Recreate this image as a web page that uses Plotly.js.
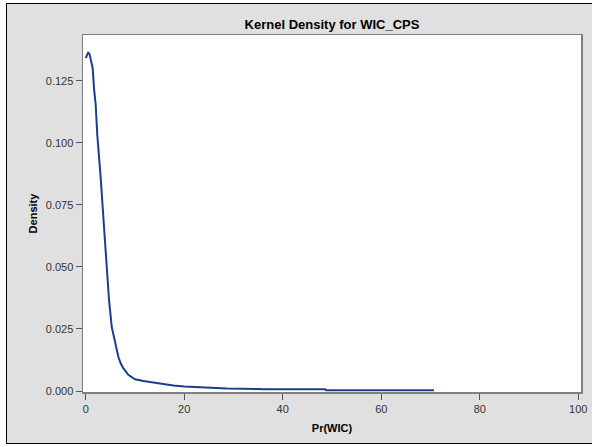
<!DOCTYPE html>
<html>
<head>
<meta charset="utf-8">
<script src="https://cdn.plot.ly/plotly-3.0.1.min.js"></script>
<style>
  html, body { margin: 0; padding: 0; background: #ffffff; overflow: hidden; }
  #frame { position: absolute; left: 6px; top: 3px; width: 600px; height: 441px;
           background: #e0e0e0; border: 1.5px solid #000; box-sizing: border-box; }
  #chart { position: absolute; left: 0; top: 0; width: 592px; height: 447px; }
</style>
</head>
<body>
<div id="frame"></div>
<div id="chart"></div>
<script>
// Kernel density estimate
const prWic = [0, 0.25, 0.53, 0.8, 1.08, 1.25, 1.42, 1.68, 2.03, 2.35, 2.70, 3.05, 3.37, 3.78, 4.26, 4.73, 5.28, 5.95, 6.62, 7.1, 7.63, 8.65, 10.0, 11.7, 14.4, 17.8, 20.0, 23.2, 28.7, 35.4, 35.6, 48.6, 48.8, 70.7];
const density = [0.1342, 0.1358, 0.1366, 0.1356, 0.1335, 0.1320, 0.1301, 0.1221, 0.1153, 0.1032, 0.0952, 0.0858, 0.0763, 0.0636, 0.0475, 0.0367, 0.0259, 0.0192, 0.0138, 0.0112, 0.0092, 0.0065, 0.0047, 0.0040, 0.0031, 0.0022, 0.0018, 0.0015, 0.0010, 0.0008, 0.0007, 0.0007, 0.0003, 0.0003];
const xTicks = [0, 20, 40, 60, 80, 100];
const yTicks = [0, 0.025, 0.05, 0.075, 0.1, 0.125];
const yTickText = ["0.000", "0.025", "0.050", "0.075", "0.100", "0.125"];

const font = "Liberation Sans, Arial, sans-serif";

Plotly.newPlot("chart", [{
  x: prWic, y: density, type: "scatter", mode: "lines",
  line: { color: "#1a3f8f", width: 2, shape: "linear" },
  hoverinfo: "skip"
}], {
  width: 592, height: 447,
  margin: { l: 83, r: 11, t: 35, b: 55 },
  paper_bgcolor: "rgba(0,0,0,0)",
  plot_bgcolor: "#ffffff",
  showlegend: false,
  font: { family: font, color: "#333333", size: 11 },
  title: {
    text: "<b>Kernel Density for WIC_CPS</b>",
    font: { family: font, size: 13, color: "#000000" },
    x: 0.5, xref: "paper", xanchor: "center",
    y: 1 - 24 / 447, yref: "container", yanchor: "middle"
  },
  xaxis: {
    range: [-0.55, 100.55], tickvals: xTicks, ticktext: xTicks.map(String),
    ticks: "outside", ticklen: 6, tickwidth: 1, tickcolor: "#555555",
    showline: true, linecolor: "#808080", linewidth: 1.5, mirror: true,
    showgrid: false, zeroline: false, automargin: false,
    tickfont: { family: font, size: 11, color: "#333333" },
    title: { text: "<b>Pr(WIC)</b>", font: { family: font, size: 11, color: "#000000" }, standoff: 10 }
  },
  yaxis: {
    range: [-0.0004, 0.1435], tickvals: yTicks, ticktext: yTickText,
    ticks: "outside", ticklen: 6, tickwidth: 1, tickcolor: "#555555",
    showline: true, linecolor: "#808080", linewidth: 1.5, mirror: true,
    showgrid: false, zeroline: false, automargin: false,
    tickfont: { family: font, size: 11, color: "#333333" },
    title: { text: "<b>Density</b>", font: { family: font, size: 11, color: "#000000" }, standoff: 6 }
  }
}, { staticPlot: true, displayModeBar: false });
</script>
</body>
</html>
